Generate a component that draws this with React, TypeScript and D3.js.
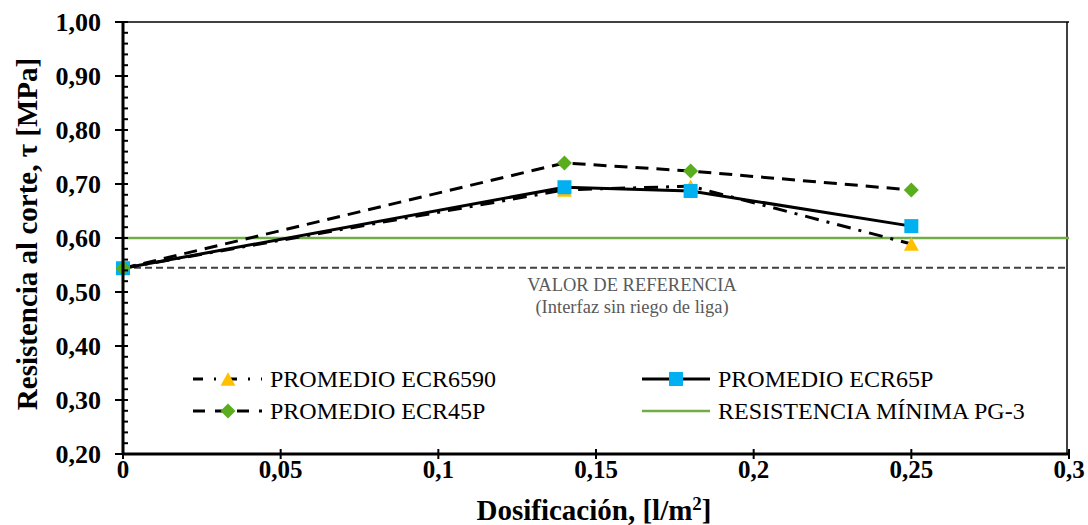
import * as d3 from 'd3';

const dosis = [0, 0.14, 0.18, 0.25];
const ecr6590 = [0.544, 0.689, 0.696, 0.589];
const ecr45p = [0.544, 0.739, 0.724, 0.689];
const ecr65p = [0.544, 0.694, 0.687, 0.622];
const valorReferencia = 0.545;
const resistenciaMinima = 0.6;
const xTicks = [0, 0.05, 0.1, 0.15, 0.2, 0.25, 0.3];
const yTicks = [0.2, 0.3, 0.4, 0.5, 0.6, 0.7, 0.8, 0.9, 1.0];

const W = 1088;
const H = 525;
const m = { left: 123, right: 1069, top: 22, bottom: 454 };
const FONT = 'Liberation Serif, Tinos, Times New Roman, Times, serif';

const fmtY = (v: number) => v.toFixed(2).replace('.', ',');
const fmtX = (v: number) => (v === 0 ? '0' : String(+v.toFixed(2)).replace('.', ','));

const x = d3.scaleLinear().domain([0, 0.3]).range([m.left, m.right]);
const y = d3.scaleLinear().domain([0.2, 1.0]).range([m.bottom, m.top]);

const line = d3
  .line<number>()
  .x((_, i) => x(dosis[i]))
  .y((d) => y(d));

const YELLOW = '#FFC000';
const GREEN = '#5AAE1E';
const BLUE = '#00B0F0';
const LIME = '#70AD47';

function Triangle({ cx, cy, s = 15 }: { cx: number; cy: number; s?: number }) {
  const h = s * 0.9;
  return (
    <path
      d={`M${cx},${cy - h / 2} L${cx + s / 2},${cy + h / 2} L${cx - s / 2},${cy + h / 2} Z`}
      fill={YELLOW}
    />
  );
}

function Diamond({ cx, cy, s = 15 }: { cx: number; cy: number; s?: number }) {
  const r = s / 2;
  return (
    <path
      d={`M${cx},${cy - r} L${cx + r},${cy} L${cx},${cy + r} L${cx - r},${cy} Z`}
      fill={GREEN}
    />
  );
}

function Square({ cx, cy, s = 14 }: { cx: number; cy: number; s?: number }) {
  return <rect x={cx - s / 2} y={cy - s / 2} width={s} height={s} fill={BLUE} />;
}

export default function App() {
  const minorY = d3.range(0.2, 1.0001, 0.02);

  return (
    <svg
      width={W}
      height={H}
      style={{ position: 'absolute', left: 0, top: 0, background: '#fff', fontFamily: FONT }}
    >
      {/* frame top + right */}
      <line x1={m.left} x2={m.right} y1={m.top} y2={m.top} stroke="#000" strokeWidth={1.5} />
      <line x1={m.right - 2} x2={m.right - 2} y1={m.top} y2={m.bottom} stroke="#000" strokeWidth={1.5} />

      {/* reference lines */}
      <line
        x1={m.left}
        x2={m.right}
        y1={y(valorReferencia)}
        y2={y(valorReferencia)}
        stroke="#404040"
        strokeWidth={2}
        strokeDasharray="7,4"
      />
      <line
        x1={m.left}
        x2={m.right}
        y1={y(resistenciaMinima)}
        y2={y(resistenciaMinima)}
        stroke={LIME}
        strokeWidth={2.5}
      />

      <text x={632} y={291} textAnchor="middle" style={{ fontFamily: FONT }} fontSize={18.5} fill="#595959">
        VALOR DE REFERENCIA
      </text>
      <text x={632} y={313} textAnchor="middle" style={{ fontFamily: FONT }} fontSize={18.5} fill="#595959">
        (Interfaz sin riego de liga)
      </text>

      {/* series lines */}
      <path d={line(ecr6590) ?? ''} fill="none" stroke="#000" strokeWidth={3} strokeDasharray="14,8,3,8" />
      <path d={line(ecr45p) ?? ''} fill="none" stroke="#000" strokeWidth={3} strokeDasharray="13,8" />
      <path d={line(ecr65p) ?? ''} fill="none" stroke="#000" strokeWidth={3} />

      {/* markers */}
      {ecr6590.map((v, i) => (
        <Triangle key={'t' + i} cx={x(dosis[i])} cy={y(v)} />
      ))}
      {ecr65p.map((v, i) => (
        <Square key={'s' + i} cx={x(dosis[i])} cy={y(v)} />
      ))}
      {ecr45p.map((v, i) => (
        <Diamond key={'d' + i} cx={x(dosis[i])} cy={y(v)} />
      ))}

      {/* y axis */}
      <line x1={m.left} x2={m.left} y1={m.top} y2={m.bottom} stroke="#000" strokeWidth={3} />
      {minorY.map((v) => (
        <line key={'my' + v} x1={m.left} x2={m.left + 5} y1={y(v)} y2={y(v)} stroke="#000" strokeWidth={2} />
      ))}
      {yTicks.map((v) => (
        <g key={'y' + v}>
          <line x1={m.left - 8} x2={m.left + 5} y1={y(v)} y2={y(v)} stroke="#000" strokeWidth={2} />
          <text
            x={m.left - 22}
            y={y(v) + 9}
            textAnchor="end"
            style={{ fontFamily: FONT }}
            fontWeight="bold"
            fontSize={26}
            fill="#000"
          >
            {fmtY(v)}
          </text>
        </g>
      ))}

      {/* x axis */}
      <line x1={m.left} x2={m.right} y1={m.bottom} y2={m.bottom} stroke="#000" strokeWidth={3} />
      {xTicks.map((v) => (
        <g key={'x' + v}>
          <line x1={x(v)} x2={x(v)} y1={m.bottom - 5} y2={m.bottom + 5} stroke="#000" strokeWidth={2} />
          <text
            x={x(v)}
            y={m.bottom + 24}
            textAnchor="middle"
            style={{ fontFamily: FONT }}
            fontWeight="bold"
            fontSize={25}
            fill="#000"
          >
            {fmtX(v)}
          </text>
        </g>
      ))}

      {/* axis titles */}
      <text
        x={594}
        y={520}
        textAnchor="middle"
        style={{ fontFamily: FONT }}
        fontWeight="bold"
        fontSize={29}
        fill="#000"
      >
        Dosificación, [l/m<tspan dy={-10} fontSize={19}>2</tspan>
        <tspan dy={10}>]</tspan>
      </text>
      <text
        transform={`translate(37,${(m.top + m.bottom) / 2 - 4}) rotate(-90)`}
        textAnchor="middle"
        style={{ fontFamily: FONT }}
        fontWeight="bold"
        fontSize={29}
        fill="#000"
      >
        Resistencia al corte, τ [MPa]
      </text>

      {/* legend */}
      <g style={{ fontFamily: FONT }} fontSize={24} fill="#000">
        <line x1={193} x2={262} y1={379} y2={379} stroke="#000" strokeWidth={3} strokeDasharray="10,11,2,11" />
        <Triangle cx={228} cy={379} />
        <text x={270} y={387}>PROMEDIO ECR6590</text>

        <line x1={193} x2={262} y1={411} y2={411} stroke="#000" strokeWidth={3} strokeDasharray="12,10" />
        <Diamond cx={228} cy={411} />
        <text x={270} y={419}>PROMEDIO ECR45P</text>

        <line x1={642} x2={710} y1={379} y2={379} stroke="#000" strokeWidth={3} />
        <Square cx={676} cy={379} />
        <text x={718} y={387}>PROMEDIO ECR65P</text>

        <line x1={642} x2={710} y1={411} y2={411} stroke={LIME} strokeWidth={2.5} />
        <text x={718} y={419}>RESISTENCIA MÍNIMA PG-3</text>
      </g>
    </svg>
  );
}
